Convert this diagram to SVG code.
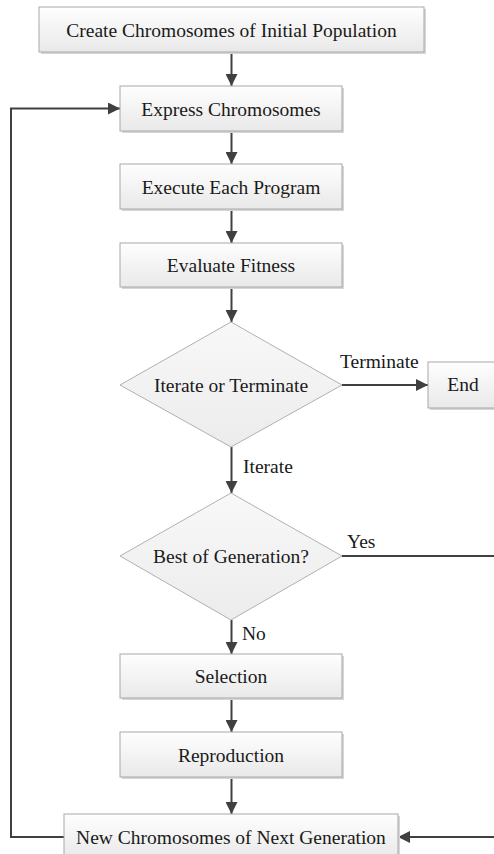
<svg xmlns="http://www.w3.org/2000/svg" width="494" height="854" viewBox="0 0 494 854">
<style>
.box{fill:url(#bg);stroke:#a8a8a8;stroke-width:1}
.sh{fill:#d6d6d6}
.dia{fill:url(#dg);stroke:#b0b0b0;stroke-width:1}
.t{font-family:"Liberation Serif","Times New Roman",serif;font-size:19.5px;fill:#1a1a1a;text-anchor:middle}
.l{font-family:"Liberation Serif","Times New Roman",serif;font-size:19.5px;fill:#1a1a1a}
.c{fill:none;stroke:#404040;stroke-width:2}
</style>
<defs>
<linearGradient id="bg" x1="0" y1="0" x2="0" y2="1">
<stop offset="0" stop-color="#fefefe"/>
<stop offset="1" stop-color="#e9e9e9"/>
</linearGradient>
<linearGradient id="dg" x1="0" y1="0" x2="0" y2="1">
<stop offset="0" stop-color="#f8f8f8"/>
<stop offset="1" stop-color="#ececec"/>
</linearGradient>
<marker id="ah" markerUnits="userSpaceOnUse" markerWidth="12" markerHeight="12" viewBox="0 0 12 12" refX="12" refY="6" orient="auto">
<path d="M0,0 L12,6 L0,12 Z" fill="#404040"/>
</marker>
</defs>
<rect width="494" height="854" fill="#ffffff"/>
<g id="connectors">
<path class="c" d="M231.5,52 V86" marker-end="url(#ah)"/>
<path class="c" d="M231.5,131 V164" marker-end="url(#ah)"/>
<path class="c" d="M231.5,209 V243" marker-end="url(#ah)"/>
<path class="c" d="M231.5,287 V322" marker-end="url(#ah)"/>
<path class="c" d="M342,385 H428" marker-end="url(#ah)"/>
<path class="c" d="M231.5,447 V493" marker-end="url(#ah)"/>
<path class="c" d="M231.5,620 V654" marker-end="url(#ah)"/>
<path class="c" d="M231.5,698 V732" marker-end="url(#ah)"/>
<path class="c" d="M231.5,777 V814" marker-end="url(#ah)"/>
<path class="c" d="M342,556 H500 V837 H398" marker-end="url(#ah)"/>
<path class="c" d="M64,837 H11 V108.5 H120" marker-end="url(#ah)"/>
<text class="l" x="340" y="368">Terminate</text>
<text class="l" x="243" y="473">Iterate</text>
<text class="l" x="347" y="548">Yes</text>
<text class="l" x="242" y="640">No</text>
</g>
<g id="n1">
<rect class="sh" x="41" y="9" width="385" height="45"/>
<rect class="box" x="39" y="7" width="385" height="45"/>
<text class="t" x="231.5" y="36.5">Create Chromosomes of Initial Population</text>
</g>
<g id="n2">
<rect class="sh" x="122" y="88" width="222" height="45"/>
<rect class="box" x="120" y="86" width="222" height="45"/>
<text class="t" x="231" y="115.5">Express Chromosomes</text>
</g>
<g id="n3">
<rect class="sh" x="122" y="166" width="222" height="45"/>
<rect class="box" x="120" y="164" width="222" height="45"/>
<text class="t" x="231" y="193.5">Execute Each Program</text>
</g>
<g id="n4">
<rect class="sh" x="122" y="245" width="222" height="44"/>
<rect class="box" x="120" y="243" width="222" height="44"/>
<text class="t" x="231" y="272">Evaluate Fitness</text>
</g>
<g id="d1">
<polygon class="dia" points="231,322 342,385 231,447 120,385"/>
<text class="t" x="231" y="392">Iterate or Terminate</text>
</g>
<g id="end">
<rect class="sh" x="430" y="364" width="70" height="46"/>
<rect class="box" x="428" y="362" width="70" height="46"/>
<text class="t" x="463" y="391">End</text>
</g>
<g id="d2">
<polygon class="dia" points="231,493 342,556 231,620 120,556"/>
<text class="t" x="231" y="563">Best of Generation?</text>
</g>
<g id="n5">
<rect class="sh" x="122" y="656" width="222" height="44"/>
<rect class="box" x="120" y="654" width="222" height="44"/>
<text class="t" x="231" y="683">Selection</text>
</g>
<g id="n6">
<rect class="sh" x="122" y="734" width="222" height="45"/>
<rect class="box" x="120" y="732" width="222" height="45"/>
<text class="t" x="231" y="761.5">Reproduction</text>
</g>
<g id="n7">
<rect class="sh" x="66" y="816" width="334" height="45"/>
<rect class="box" x="64" y="814" width="334" height="45"/>
<text class="t" x="231" y="843.5">New Chromosomes of Next Generation</text>
</g>
</svg>
